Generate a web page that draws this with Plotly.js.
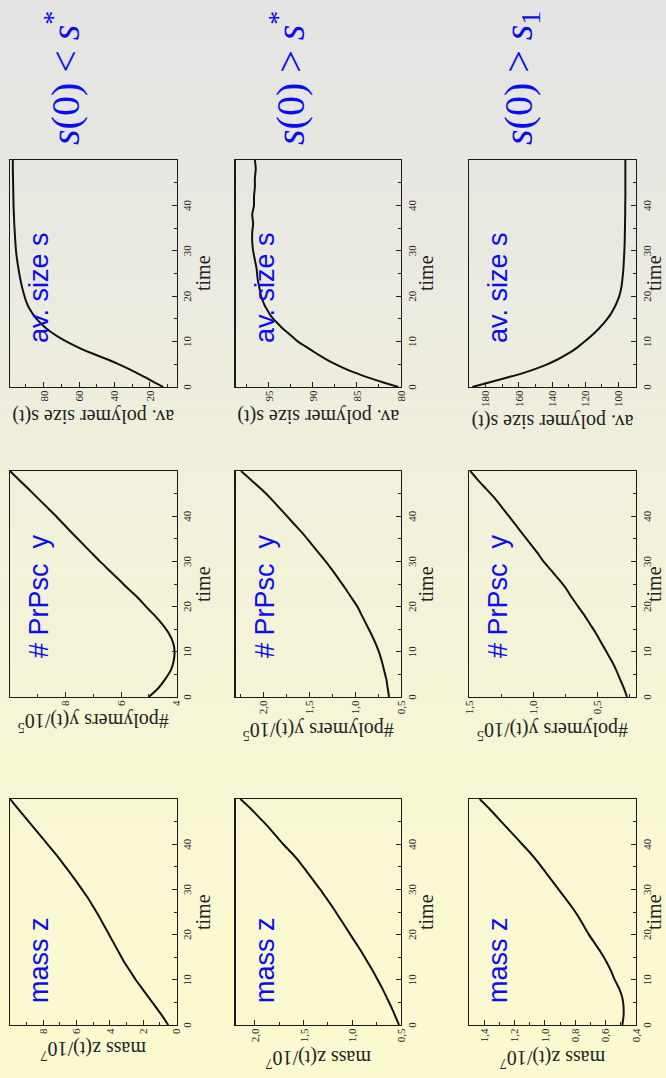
<!DOCTYPE html>
<html>
<head>
<meta charset="utf-8">
<script src="https://cdn.plot.ly/plotly-3.0.1.min.js"></script>
<style>
  html, body { margin: 0; padding: 0; }
  body {
    width: 666px; height: 1078px; overflow: hidden; position: relative;
    background: linear-gradient(to bottom, #e3e3e3 0%, #eaeae1 25%, #f3f2d9 55%, #f9f8d2 80%, #fbf9cf 100%);
  }
  /* the figure is laid out landscape and turned a quarter turn counter-clockwise */
  #fig {
    position: absolute; left: 0; top: 0; width: 1078px; height: 666px;
    transform-origin: 0 0; transform: translate(0px, 1078px) rotate(-90deg);
  }
</style>
</head>
<body>
<div id="fig"></div>
<script>
// sampling times
const time = [0,2,4,6,8,10,12,14,16,18,20,22,24,26,28,30,32,34,36,38,40,42,44,46,48,50];
const timeFine = [0,1,2,3,4,5,6,7,8,9,10,11,12,13,14,15,16,17,18,19,20,22,24,26,28,30,32,34,36,38,40,42,44,46,48,50];

// scenario s(0) < s*
const massLow = [0.5,0.85,1.25,1.65,2.05,2.45,2.8,3.15,3.45,3.75,4.05,4.35,4.65,4.97,5.3,5.68,6.06,6.46,6.87,7.3,7.75,8.2,8.65,9.1,9.55,10.0];
const polyLow = [5.0,4.65,4.4,4.2,4.1,4.07,4.12,4.27,4.5,4.78,5.1,5.4,5.75,6.08,6.42,6.76,7.08,7.4,7.72,8.03,8.34,8.67,9.0,9.33,9.67,10.0];
const sizeLow = [12.5,17.5,22,27,32,37.5,43.5,50,56.5,62,67,71.5,75.5,78.8,81.5,84,86,87.6,89,90,90.8,92.2,93.3,94.2,95,95.6,96,96.3,96.6,96.8,97,97.1,97.2,97.3,97.4,97.4];

// scenario s(0) > s*
const massMid = [0.52,0.56,0.6,0.645,0.69,0.74,0.79,0.845,0.9,0.96,1.02,1.08,1.14,1.2,1.265,1.33,1.4,1.47,1.54,1.62,1.71,1.79,1.87,1.96,2.05,2.15];
const polyMid = [0.63,0.645,0.66,0.685,0.71,0.74,0.78,0.825,0.875,0.925,0.975,1.04,1.105,1.175,1.245,1.32,1.4,1.48,1.56,1.65,1.74,1.83,1.92,2.02,2.13,2.24];
const sizeMid = [80.3,82.0,83.6,85.0,86.3,87.4,88.4,89.3,90.1,90.9,91.7,92.3,92.9,93.5,94.0,94.5,94.9,95.2,95.5,95.7,95.9,96.1,96.3,96.4,96.6,96.8,96.9,96.9,96.8,96.9,96.7,96.7,96.6,96.6,96.5,96.6];

// scenario s(0) > s1
const massHigh = [0.49,0.482,0.482,0.49,0.51,0.54,0.565,0.595,0.63,0.67,0.71,0.745,0.78,0.82,0.865,0.91,0.955,1.0,1.045,1.095,1.15,1.205,1.26,1.315,1.37,1.43];
const polyHigh = [0.27,0.295,0.325,0.355,0.39,0.43,0.47,0.51,0.555,0.6,0.65,0.7,0.745,0.8,0.86,0.92,0.97,1.025,1.08,1.135,1.19,1.245,1.3,1.365,1.43,1.49];
const sizeHigh = [188,178,168,158,150,143,137,132,127.5,123.8,120.4,117.2,114.2,111.5,109,106.8,104.8,103.2,101.8,100.6,99.6,98.3,97.6,97.1,96.8,96.5,96.3,96.2,96.1,96.0,96.0,95.9,95.9,95.9,95.9,95.9];

// texts
const rowLabels = ['<i>s</i>(0) &lt; <i>s</i><sup>*</sup>', '<i>s</i>(0) &gt; <i>s</i><sup>*</sup>', '<i>s</i>(0) &gt; <i>s</i><sub>1</sub>'];
const panelLabels = ['mass z', '# PrPsc  y', 'av. size s'];
const yTitles = ['mass z(t)/10<sup>7</sup>', '#polymers y(t)/10<sup>5</sup>', 'av. polymer size s(t)'];
const xTitle = 'time';
const timeTicks = [0,10,20,30,40];

// per-row value axes
const yTickSets = [
  [[0,2,4,6,8], [4,6,8], [20,40,60,80]],
  [[0.5,1.0,1.5,2.0], [0.5,1.0,1.5,2.0], [80,85,90,95]],
  [[0.4,0.6,0.8,1.0,1.2,1.4], [0.5,1.0,1.5], [100,120,140,160,180]]
];
const yRanges = [
  [[0,10], [4,10], [5,99]],
  [[0.5,2.2], [0.5,2.3], [80,98.8]],
  [[0.4,1.5], [0.2,1.5], [89.5,190]]
];
const yMinor = [[1,1,10],[0.25,0.25,2.5],[0.1,0.25,10]];
const yFormat = [['d','d','d'],['.1f','.1f','d'],['.1f','.1f','d']];

const series = [
  [[time, massLow], [time, polyLow], [timeFine, sizeLow]],
  [[time, massMid], [time, polyMid], [timeFine, sizeMid]],
  [[time, massHigh], [time, polyHigh], [timeFine, sizeHigh]]
];

// geometry of the landscape figure (px)
const W = 1078, H = 666;
const rowSpans = [[10,176.5],[235.5,401],[469,636]];
const colSpans = [[53,279],[381,607],[691,918]];
const timeTitleDrop = [26, 25, 18];

const serif = "'Liberation Serif', 'Times New Roman', serif";
const sans = "'Liberation Sans', Arial, sans-serif";
const blue = 'rgb(12,12,240)';
const ink = '#222';

const traces = [];
const layout = {
  width: W, height: H, autosize: false,
  margin: {l:0, r:0, t:0, b:0},
  paper_bgcolor: 'rgba(0,0,0,0)', plot_bgcolor: 'rgba(0,0,0,0)',
  separators: ', ',
  showlegend: false,
  font: {family: serif, color: ink},
  annotations: []
};

for (let r = 0; r < 3; r++) {
  for (let c = 0; c < 3; c++) {
    const k = r * 3 + c + 1;
    const sfx = k === 1 ? '' : String(k);
    const [ry0, ry1] = rowSpans[r];
    const [cx0, cx1] = colSpans[c];
    const [tx, vy] = series[r][c];
    traces.push({
      x: tx, y: vy, type: 'scatter', mode: 'lines',
      line: {color: '#111', width: 2, shape: 'spline', smoothing: 0.6},
      xaxis: 'x' + sfx, yaxis: 'y' + sfx, hoverinfo: 'skip'
    });
    layout['xaxis' + sfx] = {
      domain: [cx0 / W, cx1 / W], anchor: 'y' + sfx,
      range: [0, 50], tickmode: 'array', tickvals: timeTicks,
      ticks: 'inside', ticklen: 5, tickwidth: 1, tickcolor: ink,
      minor: {dtick: 5, tick0: 0, ticks: 'inside', ticklen: 3, tickcolor: ink, showgrid: false},
      showline: true, linecolor: '#1a1a1a', linewidth: 1.4, mirror: true,
      showgrid: false, zeroline: false,
      tickfont: {family: serif, size: 11, color: ink}
    };
    layout['yaxis' + sfx] = {
      domain: [1 - ry1 / H, 1 - ry0 / H], anchor: 'x' + sfx,
      range: yRanges[r][c], tickmode: 'array', tickvals: yTickSets[r][c],
      tickformat: yFormat[r][c],
      ticks: 'inside', ticklen: 5, tickwidth: 1, tickcolor: ink,
      minor: {dtick: yMinor[r][c], tick0: 0, ticks: 'inside', ticklen: 3, tickcolor: ink, showgrid: false},
      showline: true, linecolor: '#1a1a1a', linewidth: 1.4, mirror: true,
      showgrid: false, zeroline: false,
      tickfont: {family: serif, size: 11, color: ink},
      title: {text: yTitles[c], font: {family: serif, size: 20, color: ink}, standoff: 2}
    };
    // time axis title
    layout.annotations.push({
      xref: 'x' + sfx + ' domain', yref: 'y' + sfx + ' domain',
      x: 0.5, y: 0, xanchor: 'center', yanchor: 'middle', yshift: -timeTitleDrop[r],
      text: xTitle, showarrow: false,
      font: {family: serif, size: 20, color: ink}
    });
    // panel caption
    const labelX = [20, 37, 42][c] / (cx1 - cx0);
    layout.annotations.push({
      xref: 'x' + sfx + ' domain', yref: 'y' + sfx + ' domain',
      x: labelX, y: 1 - 29 / (ry1 - ry0), xanchor: 'left', yanchor: 'middle',
      text: panelLabels[c], showarrow: false,
      font: {family: sans, size: 27, color: blue}
    });
  }
  layout.annotations.push({
    xref: 'paper', yref: 'paper',
    x: 931 / W, y: 1 - (rowSpans[r][0] + 52) / H, xanchor: 'left', yanchor: 'middle',
    text: rowLabels[r], showarrow: false,
    font: {family: serif, size: 40, color: blue}
  });
}

Plotly.newPlot('fig', traces, layout, {staticPlot: true, displayModeBar: false});
</script>
</body>
</html>
